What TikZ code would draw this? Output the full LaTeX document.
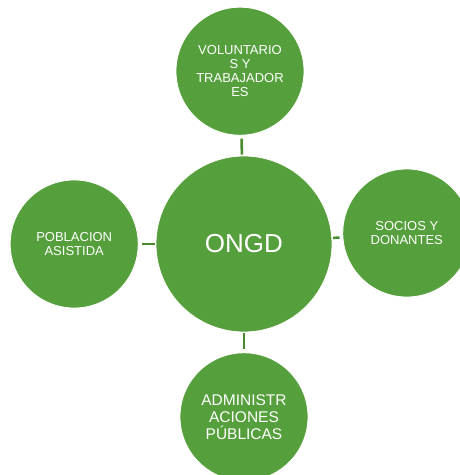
\documentclass[tikz,border=0pt]{standalone}
\usepackage{fontspec}
\setmainfont{Liberation Sans}
\usetikzlibrary{positioning}
\definecolor{leaf}{HTML}{55A03C}
\definecolor{stem}{HTML}{4A8A2F}
\tikzstyle{blob}=[circle,draw=white,line width=0.8pt,fill=leaf,text=white,align=center,inner sep=0pt]
\tikzstyle{hub}=[blob,minimum size=176pt,font=\fontsize{26}{30}\selectfont]
\tikzstyle{party}=[blob,minimum size=128pt,font=\fontsize{13}{14}\selectfont]
\tikzstyle{link}=[draw=stem,line width=2.6pt,shorten <=1pt,shorten >=3pt]

\begin{document}
\begin{tikzpicture}

\useasboundingbox (-244pt,244pt) rectangle (216pt,-231pt);

\node (ongd) [hub] at (0,0) {ONGD} ;
\node (vol) [party,above=20pt of ongd,xshift=-4pt] {VOLUNTARIO\\S Y\\TRABAJADOR\\ES} ;
\node (soc) [party,right=10pt of ongd,yshift=11pt] {SOCIOS Y\\DONANTES} ;
\node (pob) [party,left=17pt of ongd] {POBLACION\\ASISTIDA} ;
\node (adm) [party,below=20pt of ongd,font=\fontsize{15.5}{17}\selectfont] {ADMINISTR\\ACIONES\\PÚBLICAS} ;

\draw [link] (ongd) -- (vol) ;
\draw [link] (ongd) -- (soc) ;
\draw [link] (ongd) -- (pob) ;
\draw [link] (ongd) -- (adm) ;

\end{tikzpicture}
\end{document}
